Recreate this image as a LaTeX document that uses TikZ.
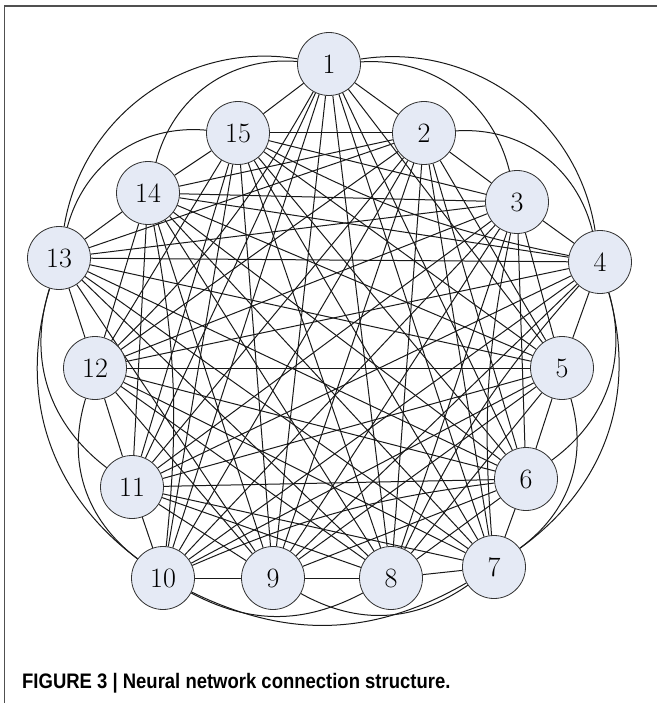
\documentclass[tikz,border=0pt]{standalone}
\usepackage{fontspec}
\usepackage{tikz}
\newfontfamily\captionfont[FakeStretch=0.88]{Liberation Sans}
\definecolor{neuroncolor}{RGB}{229, 234, 245}
\definecolor{framecolor}{RGB}{80, 80, 80}
\usetikzlibrary{backgrounds}

\begin{document}
\begin{tikzpicture}[
    x=1pt, y=1pt,
    neuron/.style={circle, draw=black!80, line width=0.8pt, fill=neuroncolor, minimum size=63pt, inner sep=0pt, font=\fontsize{28}{30}\selectfont},
    link/.style={draw=black!90, line width=1pt},
    caption/.style={anchor=west, inner sep=0pt, font=\captionfont\bfseries\fontsize{21}{24}\selectfont}
]
    \useasboundingbox (0,0) rectangle (657,-703);
    % Frame
    \draw[framecolor, line width=1.3pt] (4.5,-703) -- (4.5,-6) -- (657,-6);

    % Neurons
    \foreach \n/\x/\y in {1/329/64, 2/424/133, 3/517/202, 4/600/262, 5/562/368,
                          6/526/479, 7/494/567, 8/391/578, 9/273/578, 10/163/578,
                          11/132/487, 12/95/368, 13/59/258, 14/148/193, 15/238/133} {
        \node[neuron] (n\n) at (\x,-\y) {\n};
    }

    % Pairs that are not drawn straight
    \foreach \a/\b in {1/3, 2/4, 4/6, 5/7, 7/9, 8/10, 10/12, 11/13, 13/15, 1/14,
                       1/4, 4/7, 7/10, 10/13, 1/13, 3/7, 4/8, 6/10, 10/14, 1/12, 4/15} {
        \expandafter\gdef\csname curved-\a-\b\endcsname{}
    }

    % Connections
    \begin{scope}[on background layer]
        \foreach \i in {1,...,14} {
            \pgfmathtruncatemacro\first{\i+1}
            \foreach \j in {\first,...,15} {
                \ifcsname curved-\i-\j\endcsname\else
                    \draw[link] (n\i) -- (n\j);
                \fi
            }
        }
        % outer arcs
        \draw[link] (n1) to[bend left=40] (n3);
        \draw[link] (n2) to[bend left=40] (n4);
        \draw[link] (n4) to[bend left=35] (n6);
        \draw[link] (n5) to[bend left=35] (n7);
        \draw[link] (n7) to[bend left=32] (n9);
        \draw[link] (n8) to[bend left=28] (n10);
        \draw[link] (n10) to[bend left=35] (n12);
        \draw[link] (n11) to[bend left=35] (n13);
        \draw[link] (n13) to[bend left=40] (n15);
        \draw[link] (n14) to[bend left=40] (n1);
        \draw[link] (n1) to[bend left=45] (n4);
        \draw[link] (n4) to[bend left=35] (n7);
        \draw[link] (n7) to[bend left=28] (n10);
        \draw[link] (n10) to[bend left=35] (n13);
        \draw[link] (n13) to[bend left=45] (n1);
        % slight detours
        \draw[link] (n3) to[bend right=8] (n7);
        \draw[link] (n4) to[bend right=8] (n8);
        \draw[link] (n6) to[bend right=8] (n10);
        \draw[link] (n10) to[bend right=8] (n14);
        \draw[link] (n12) to[bend right=8] (n1);
        \draw[link] (n15) to[bend right=8] (n4);
    \end{scope}

    % Caption
    \node[caption] (caption) at (22,-683) {FIGURE 3 | Neural network connection structure.};
\end{tikzpicture}
\end{document}
